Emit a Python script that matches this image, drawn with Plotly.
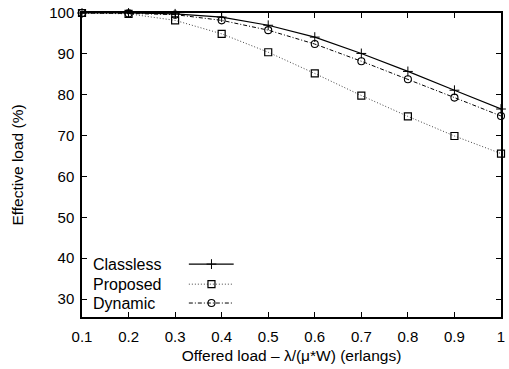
import plotly.graph_objects as go

loads = [0.1, 0.2, 0.3, 0.4, 0.5, 0.6, 0.7, 0.8, 0.9, 1.0]
classless = [100, 100, 99.8, 99.0, 97.0, 94.1, 90.1, 85.7, 81.1, 76.5]
proposed = [100, 99.8, 98.2, 94.9, 90.4, 85.2, 79.8, 74.7, 69.9, 65.6]
dynamic = [100, 99.9, 99.6, 98.2, 95.8, 92.4, 88.2, 83.8, 79.3, 74.8]
series_names = ["Classless", "Proposed", "Dynamic"]
x_ticks = [0.1, 0.2, 0.3, 0.4, 0.5, 0.6, 0.7, 0.8, 0.9, 1]
x_tick_text = ["0.1", "0.2", "0.3", "0.4", "0.5", "0.6", "0.7", "0.8", "0.9", "1"]
y_ticks = [30, 40, 50, 60, 70, 80, 90, 100]

FONT = "Liberation Sans, Arial, Helvetica, sans-serif"

styles = [
    dict(line=dict(color="black", width=1.2, dash="solid"),
         marker=dict(symbol="cross-thin-open", size=7, color="black", line=dict(color="black", width=1))),
    dict(line=dict(color="#444", width=1, dash="1px,2px"),
         marker=dict(symbol="square-open", size=7, color="black", line=dict(color="black", width=1.2))),
    dict(line=dict(color="black", width=1, dash="4px,2px,1px,2px"),
         marker=dict(symbol="circle-open", size=7, color="black", line=dict(color="black", width=1.1))),
]

fig = go.Figure()
for name, ys, st in zip(series_names, [classless, proposed, dynamic], styles):
    fig.add_trace(go.Scatter(x=loads, y=ys, mode="lines+markers", name=name,
                             line=st["line"], marker=st["marker"], showlegend=False,
                             cliponaxis=False))

# manual legend (text left, sample right) on an overlay axis
leg_y = [0.174, 0.108, 0.046]
for name, yy, st in zip(series_names, leg_y, styles):
    fig.add_trace(go.Scatter(x=[0.255, 0.362], y=[yy, yy], mode="lines", line=st["line"],
                             xaxis="x2", yaxis="y2", showlegend=False, hoverinfo="skip"))
    fig.add_trace(go.Scatter(x=[0.309], y=[yy], mode="markers", marker=st["marker"],
                             xaxis="x2", yaxis="y2", showlegend=False, hoverinfo="skip"))
    fig.add_annotation(x=0.022, y=yy, xref="x2", yref="y2", text=name, showarrow=False,
                       xanchor="left", yanchor="middle",
                       font=dict(family=FONT, size=16, color="black"))

axis_common = dict(showgrid=False, zeroline=False, showline=True, linecolor="black", linewidth=1.5,
                   mirror="allticks", ticks="inside", ticklen=5, tickwidth=1, tickcolor="black",
                   tickfont=dict(family=FONT, size=15, color="black"))

fig.update_layout(
    width=509, height=369,
    margin=dict(l=82, r=4, t=12, b=52),
    paper_bgcolor="white", plot_bgcolor="white",
    font=dict(family=FONT, size=15, color="black"),
    xaxis=dict(range=[0.1, 1.0], tickvals=x_ticks, ticktext=x_tick_text, ticklabelstandoff=5,
               title=dict(text="Offered load – λ/(μ*W) (erlangs)", standoff=6,
                          font=dict(family=FONT, size=15.5, color="black")), **axis_common),
    yaxis=dict(range=[25.6, 100], tickvals=y_ticks, ticklabelstandoff=3,
               title=dict(text="Effective load (%)", standoff=22,
                          font=dict(family=FONT, size=15.5, color="black")),
               **axis_common),
    xaxis2=dict(range=[0, 1], overlaying="x", visible=False, fixedrange=True),
    yaxis2=dict(range=[0, 1], overlaying="y", visible=False, fixedrange=True),
)

fig.write_html("out.html")
